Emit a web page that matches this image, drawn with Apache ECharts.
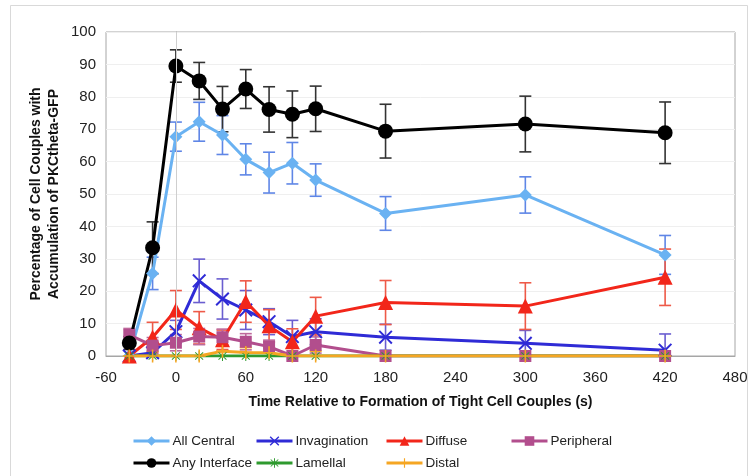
<!DOCTYPE html>
<html>
<head>
<meta charset="utf-8">
<script src="https://cdn.jsdelivr.net/npm/echarts@6/dist/echarts.min.js"></script>
<style>
  html, body { margin: 0; padding: 0; background: #fff; }
  #chart { width: 753px; height: 476px; }
</style>
</head>
<body>
<div id="chart"></div>
<script>
// Sampling times (s) relative to tight cell couple formation
const times = [-40, -20, 0, 20, 40, 60, 80, 100, 120, 180, 300, 420];

// Percentage of cell couples per accumulation pattern, with standard errors
const allCentral    = [0, 25.5, 67.7, 72.3, 68.2, 60.7, 56.6, 59.5, 54.3, 44.0, 49.7, 31.2];
const allCentralErr = [0, 5, 4.5, 6, 6, 4.8, 6.3, 6.4, 5, 5.2, 5.6, 6];

const invagination    = [0, 1, 7.5, 23.2, 17.6, 14.2, 10.6, 6.0, 7.5, 5.8, 3.9, 1.8];
const invaginationErr = [0, 1.5, 3.5, 6.7, 6.2, 6, 4, 5, 4, 4, 4, 5];

const diffuse    = [0, 5.8, 14.2, 8.7, 5, 16.8, 9.3, 4.4, 12.3, 16.5, 15.4, 24.3];
const diffuseErr = [0, 4.6, 6, 5, 3, 6.4, 5, 4, 5.8, 6.8, 7.2, 8.7];

const peripheral    = [6.5, 3.2, 4.1, 6.0, 5.8, 4.4, 2.9, 0, 3.4, 0, 0, 0];
const peripheralErr = [2, 2.5, 2.5, 2.5, 2.5, 2.5, 2, 0, 2.5, 0, 0, 0];

const anyInterface    = [4, 33.4, 89.5, 84.9, 76.2, 82.4, 76.1, 74.6, 76.3, 69.4, 71.6, 68.9];
const anyInterfaceErr = [2, 8, 5, 5.7, 7, 6, 7, 7.2, 7, 8.3, 8.6, 9.5];

const lamellal    = [0, 0, 0, 0, 0, 0, 0, 0, 0, 0, 0, 0];
const lamellalErr = [0, 0, 0, 0, 0, 0, 0, 0, 0, 0, 0, 0];

const distal    = [0, 0, 0, 0, 1.5, 1.1, 1, 0, 0, 0, 0, 0];
const distalErr = [0, 1.5, 0, 0, 1.5, 1.5, 1.5, 0, 1.5, 0, 0, 0];

const xTicks = { min: -60, max: 480, step: 60 };
const yTicks = { min: 0, max: 100, step: 10 };

const FONT = 'Liberation Sans, Arial, sans-serif';

const X_MARK = 'path://M1,0L5,4L9,0L10,1L6,5L10,9L9,10L5,6L1,10L0,9L4,5L0,1Z';
const PLUS_MARK = 'path://M4.4,0H5.6V4.4H10V5.6H5.6V10H4.4V5.6H0V4.4H4.4Z';
const STAR_MARK = 'path://M4.5,0H5.5V4L8.6,1L9.3,1.7L6.2,4.5H10V5.5H6.2L9.3,8.3L8.6,9L5.5,6V10H4.5V6L1.4,9L0.7,8.3L3.8,5.5H0V4.5H3.8L0.7,1.7L1.4,1L4.5,4Z';

function pairs(vals) {
  return times.map((t, i) => [t, vals[i]]);
}
function errData(vals, errs) {
  return times.map((t, i) => [t, Math.max(0, vals[i] - errs[i]), vals[i] + errs[i]]);
}

function errorSeries(name, vals, errs, color) {
  return {
    type: 'custom',
    name: name + ' error',
    z: 1,
    silent: true,
    clip: true,
    data: errData(vals, errs),
    renderItem: function (params, api) {
      const x = api.value(0);
      const lo = api.value(1);
      const hi = api.value(2);
      if (hi - lo < 0.01) return;
      const pTop = api.coord([x, hi]);
      const pBot = api.coord([x, lo]);
      const hw = 6;
      const st = { stroke: color, lineWidth: 1.6 };
      return {
        type: 'group',
        children: [
          { type: 'line', shape: { x1: pTop[0], y1: pTop[1], x2: pBot[0], y2: pBot[1] }, style: st },
          { type: 'line', shape: { x1: pTop[0] - hw, y1: pTop[1], x2: pTop[0] + hw, y2: pTop[1] }, style: st },
          { type: 'line', shape: { x1: pBot[0] - hw, y1: pBot[1], x2: pBot[0] + hw, y2: pBot[1] }, style: st }
        ]
      };
    }
  };
}

function lineSeries(name, vals, color, symbol, size, extra) {
  return Object.assign({
    type: 'line',
    name: name,
    z: 3,
    data: pairs(vals),
    symbol: symbol,
    symbolSize: size,
    showAllSymbol: true,
    lineStyle: { color: color, width: 3 },
    itemStyle: { color: color, borderWidth: 0 },
    emphasis: { disabled: true }
  }, extra || {});
}

const groups = [
  { name: 'All Central',   vals: allCentral,   errs: allCentralErr,   color: '#6AB2F2', err: '#5F86E6', symbol: 'diamond',  size: 13 },
  { name: 'Invagination',  vals: invagination, errs: invaginationErr, color: '#2F2BD6', err: '#6A5ED0', symbol: X_MARK,     size: 14 },
  { name: 'Diffuse',       vals: diffuse,      errs: diffuseErr,      color: '#F2261A', err: '#EE5A48', symbol: 'triangle', size: 15 },
  { name: 'Peripheral',    vals: peripheral,   errs: peripheralErr,   color: '#B24E8D', err: '#BE6A9C', symbol: 'rect',     size: 12 },
  { name: 'Any Interface', vals: anyInterface, errs: anyInterfaceErr, color: '#000000', err: '#333333', symbol: 'circle',   size: 15 },
  { name: 'Lamellal',      vals: lamellal,     errs: lamellalErr,     color: '#2E9A2E', err: '#2E9A2E', symbol: STAR_MARK,  size: 10 },
  { name: 'Distal',        vals: distal,       errs: distalErr,       color: '#F5A623', err: '#F5A623', symbol: PLUS_MARK,  size: 13 }
];

const series = [];
groups.forEach(g => series.push(errorSeries(g.name, g.vals, g.errs, g.err)));
groups.forEach((g, i) => {
  const extra = {};
  if (i === 0) {
    // vertical axis crossing at t = 0
    extra.markLine = {
      silent: true,
      symbol: 'none',
      label: { show: false },
      lineStyle: { color: '#cfcfcf', width: 1, type: 'solid' },
      data: [{ xAxis: 0 }]
    };
  }
  series.push(lineSeries(g.name, g.vals, g.color, g.symbol, g.size, extra));
});

// Legend laid out in two rows, four columns
const legendSlots = [
  { name: 'All Central',   left: 132, top: 434 },
  { name: 'Invagination',  left: 255, top: 434 },
  { name: 'Diffuse',       left: 385, top: 434 },
  { name: 'Peripheral',    left: 510, top: 434 },
  { name: 'Any Interface', left: 132, top: 456 },
  { name: 'Lamellal',      left: 255, top: 456 },
  { name: 'Distal',        left: 385, top: 456 }
];
const legends = legendSlots.map(s => ({
  data: [s.name],
  left: s.left,
  top: s.top,
  padding: 0,
  itemWidth: 36,
  itemHeight: 12,
  selectedMode: false,
  lineStyle: { width: 3 },
  textStyle: { fontFamily: FONT, fontSize: 13.5, color: '#222', padding: [0, 0, 0, -2] }
}));

const chart = echarts.init(document.getElementById('chart'), null, { renderer: 'canvas' });
chart.setOption({
  animation: false,
  backgroundColor: '#ffffff',
  graphic: [{
    type: 'rect',
    shape: { x: 10.5, y: 5.5, width: 737, height: 480 },
    style: { fill: 'none', stroke: '#d9d9d9', lineWidth: 1 },
    z: -10,
    silent: true
  }],
  grid: { left: 106, right: 18, top: 32, bottom: 120, show: true, borderColor: '#a6a6a6', borderWidth: 1, backgroundColor: 'transparent' },
  legend: legends,
  xAxis: {
    type: 'value',
    min: xTicks.min,
    max: xTicks.max,
    interval: xTicks.step,
    name: 'Time Relative to Formation of Tight Cell Couples (s)',
    nameLocation: 'middle',
    nameGap: 39,
    nameMoveOverlap: false,
    nameTextStyle: { fontFamily: FONT, fontSize: 14, fontWeight: 'bold', color: '#111' },
    axisLine: { show: true, lineStyle: { color: '#a6a6a6', width: 1 } },
    axisTick: { show: false },
    splitLine: { show: false },
    axisLabel: { fontFamily: FONT, fontSize: 15, color: '#222', margin: 14 }
  },
  yAxis: {
    type: 'value',
    min: yTicks.min,
    max: yTicks.max,
    interval: yTicks.step,
    name: 'Percentage of Cell Couples with\nAccumulation of PKCtheta-GFP',
    nameLocation: 'middle',
    nameRotate: 90,
    nameGap: 43,
    nameMoveOverlap: false,
    nameTextStyle: { fontFamily: FONT, fontSize: 14, fontWeight: 'bold', color: '#111', lineHeight: 18 },
    axisLine: { show: true, lineStyle: { color: '#a6a6a6', width: 1 } },
    axisTick: { show: false },
    splitLine: { show: true, lineStyle: { color: '#efefef', width: 1 } },
    axisLabel: { fontFamily: FONT, fontSize: 15, color: '#222', margin: 10 }
  },
  series: series
});
</script>
</body>
</html>
